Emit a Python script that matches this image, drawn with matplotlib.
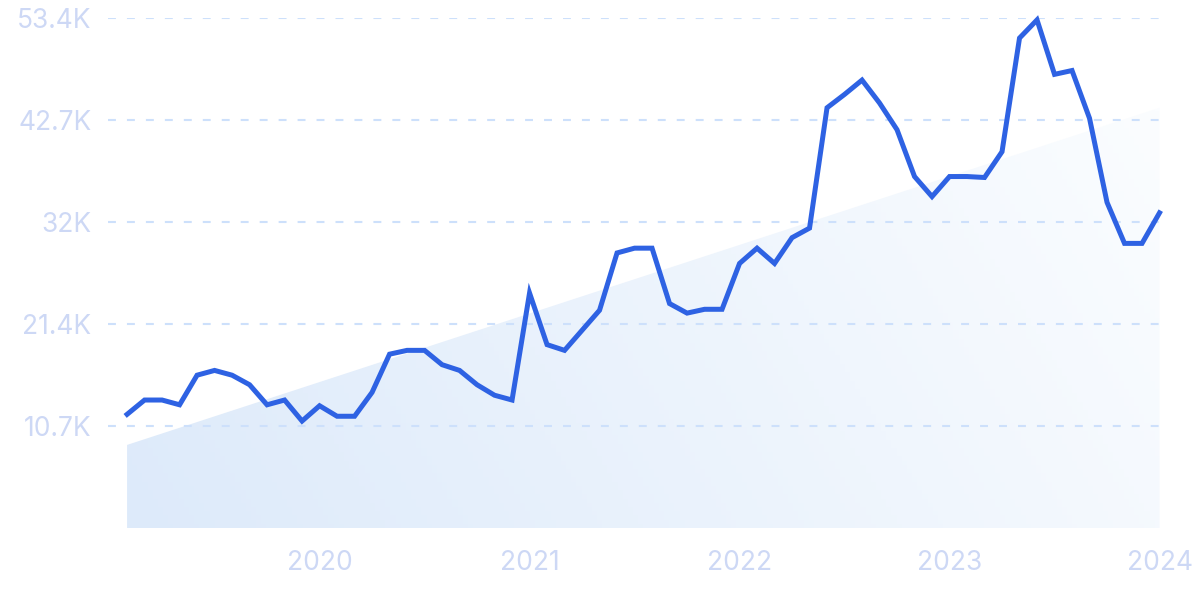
import numpy as np
import matplotlib.pyplot as plt
from matplotlib.patches import Polygon

# Monthly values, Feb 2019 .. Jan 2024
values = [11.9, 13.4, 13.4, 12.9, 16.0, 16.5, 16.0, 15.0, 12.9, 13.4,
          11.2, 12.8, 11.7, 11.7, 14.2, 18.2, 18.6, 18.6, 17.1, 16.5,
          15.0, 13.9, 13.4, 24.6, 19.2, 18.6, 20.7, 22.8, 28.8, 29.3,
          29.3, 23.5, 22.5, 22.9, 22.9, 27.7, 29.3, 27.7, 30.4, 31.4,
          44.0, 45.4, 46.9, 44.5, 41.7, 36.8, 34.7, 36.8, 36.8, 36.7,
          39.4, 51.3, 53.2, 47.5, 47.9, 42.9, 34.1, 29.8, 29.8, 33.0]
values = np.array(values) * 1000

# Trend line (start / end value)
trend_start = 8700
trend_end = 44000

y_ticks = [10700, 21400, 32000, 42700, 53400]
y_labels = ["10.7K", "21.4K", "32K", "42.7K", "53.4K"]
year_pos = [11, 23, 35, 47, 59]
year_labels = ["2020", "2021", "2022", "2023", "2024"]

plt.rcParams['font.family'] = ['Inter', 'DejaVu Sans']

fig = plt.figure(figsize=(12, 6), dpi=100)
ax = fig.add_axes([0.09, 0.12, 0.8767, 0.85])

x = np.arange(len(values))
ax.set_xlim(-1.09, 59.03)
ax.set_ylim(0, 53400)

# Trend area with gradient
poly = Polygon([[0, 0], [0, trend_start], [x[-1], trend_end], [x[-1], 0]],
               closed=True, facecolor='none', edgecolor='none')
ax.add_patch(poly)
gx, gy = np.meshgrid(np.linspace(0, 1, 200), np.linspace(0, 1, 100))
t = np.clip(0.8 * gx + 0.2 * gy, 0, 1)
c0 = np.array([221, 234, 250]) / 255
c1 = np.array([251, 253, 255]) / 255
img = c0[None, None, :] * (1 - t[..., None]) + c1[None, None, :] * t[..., None]
im = ax.imshow(img, extent=[0, x[-1], 0, trend_end], origin='lower',
               aspect='auto', zorder=1)
im.set_clip_path(poly)

# Grid lines
for yv in y_ticks:
    ax.axhline(yv, color='#cde0fb', lw=1.5, ls=(0, (3.8, 5.3)), zorder=2)

ax.plot(x, values, color='#2e62e3', lw=3.6, zorder=3, clip_on=False,
        solid_joinstyle='miter')

ax.set_yticks(y_ticks)
ax.set_yticklabels(y_labels)
ax.set_xticks(year_pos)
ax.set_xticklabels(year_labels)
ax.tick_params(axis='y', length=0, pad=12, labelsize=19, labelcolor='#cdd8f5')
ax.tick_params(axis='x', length=0, pad=16, labelsize=19, labelcolor='#cdd8f5')
for s in ax.spines.values():
    s.set_visible(False)

fig.savefig("out.png", dpi=100)
